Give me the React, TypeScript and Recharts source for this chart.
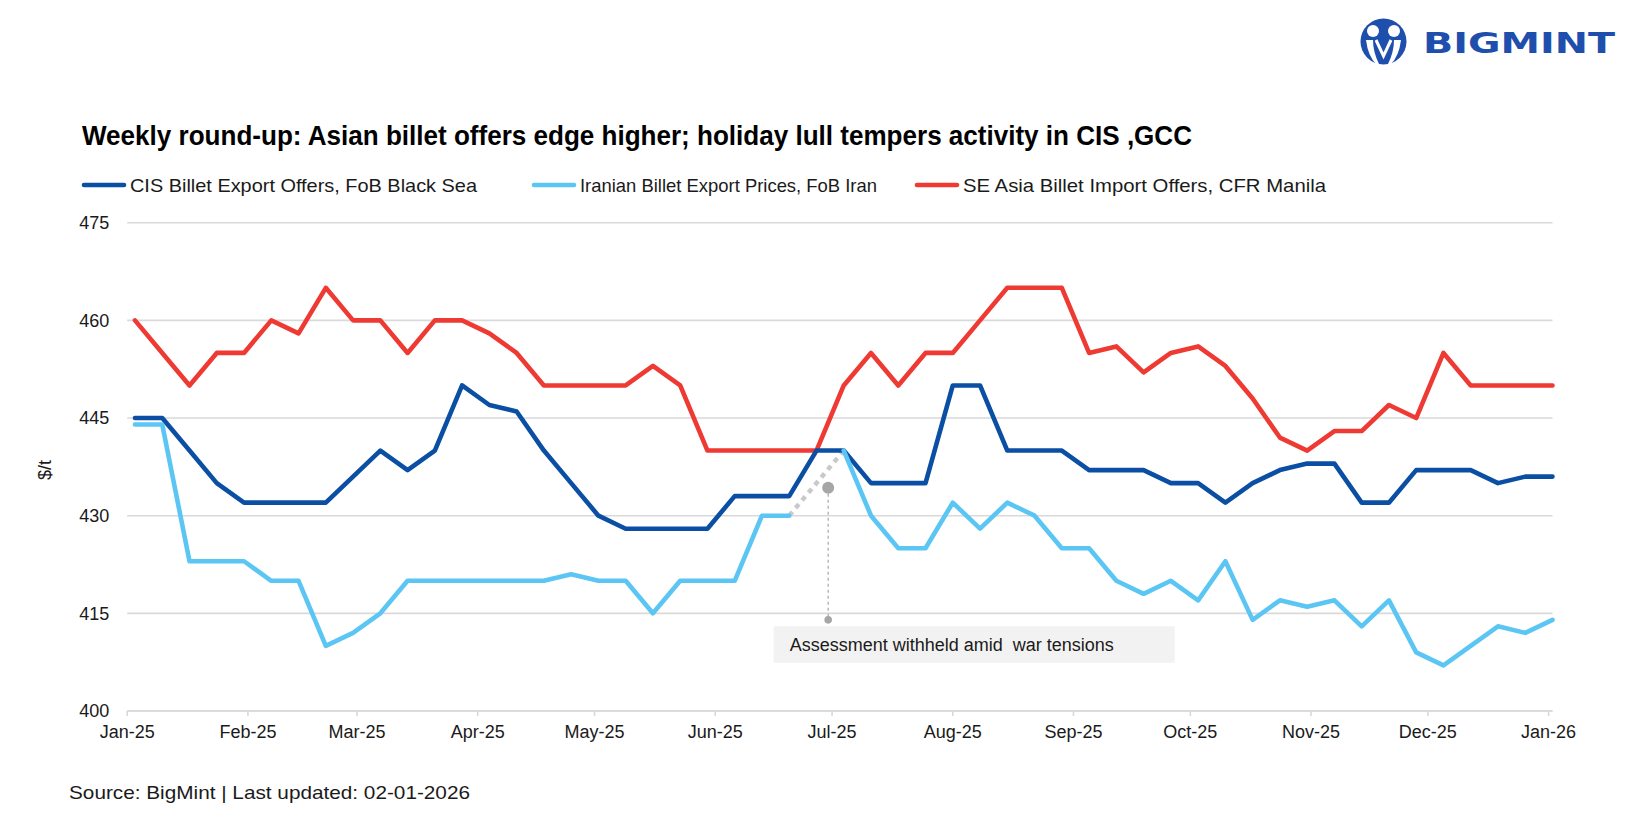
import React from 'react';
import {
  LineChart,
  Line,
  XAxis,
  YAxis,
  CartesianGrid,
  ReferenceDot,
  ReferenceLine,
  ReferenceArea,
} from 'recharts';

// ---------- data ----------
const weekDates = [
  '2025-01-03', '2025-01-10', '2025-01-17', '2025-01-24', '2025-01-31',
  '2025-02-07', '2025-02-14', '2025-02-21', '2025-02-28',
  '2025-03-07', '2025-03-14', '2025-03-21', '2025-03-28',
  '2025-04-04', '2025-04-11', '2025-04-18', '2025-04-25',
  '2025-05-02', '2025-05-09', '2025-05-16', '2025-05-23', '2025-05-30',
  '2025-06-06', '2025-06-13', '2025-06-20', '2025-06-27',
  '2025-07-04', '2025-07-11', '2025-07-18', '2025-07-25',
  '2025-08-01', '2025-08-08', '2025-08-15', '2025-08-22', '2025-08-29',
  '2025-09-05', '2025-09-12', '2025-09-19', '2025-09-26',
  '2025-10-03', '2025-10-10', '2025-10-17', '2025-10-24', '2025-10-31',
  '2025-11-07', '2025-11-14', '2025-11-21', '2025-11-28',
  '2025-12-05', '2025-12-12', '2025-12-19', '2025-12-26',
  '2026-01-02',
];

const cisOffers = [
  445, 445, 440, 435, 432, 432, 432, 432, 436, 440, 437, 440, 450, 447, 446, 440,
  435, 430, 428, 428, 428, 428, 433, 433, 433, 440, 440, 435, 435, 435, 450, 450,
  440, 440, 440, 437, 437, 437, 435, 435, 432, 435, 437, 438, 438, 432, 432, 437,
  437, 437, 435, 436, 436,
];

const iranPrices: (number | null)[] = [
  444, 444, 423, 423, 423, 420, 420, 410, 412, 415, 420, 420, 420, 420, 420, 420,
  421, 420, 420, 415, 420, 420, 420, 430, 430, null, 440, 430, 425, 425, 432, 428,
  432, 430, 425, 425, 420, 418, 420, 417, 423, 414, 417, 416, 417, 413, 417, 409,
  407, 410, 413, 412, 414,
];

const seAsiaOffers = [
  460, 455, 450, 455, 455, 460, 458, 465, 460, 460, 455, 460, 460, 458, 455, 450,
  450, 450, 450, 453, 450, 440, 440, 440, 440, 440, 450, 455, 450, 455, 455, 460,
  465, 465, 465, 455, 456, 452, 455, 456, 453, 448, 442, 440, 443, 443, 447, 445,
  455, 450, 450, 450, 450,
];

// dotted bridge across the withheld Iranian assessment
const bridgeDates = ['2025-06-20', '2025-07-04'];
const bridgeValues = [430, 440];

const monthTickDates = [
  '2025-01-01', '2025-02-01', '2025-03-01', '2025-04-01', '2025-05-01', '2025-06-01',
  '2025-07-01', '2025-08-01', '2025-09-01', '2025-10-01', '2025-11-01', '2025-12-01',
  '2026-01-01',
];
const monthTickLabels = [
  'Jan-25', 'Feb-25', 'Mar-25', 'Apr-25', 'May-25', 'Jun-25', 'Jul-25', 'Aug-25',
  'Sep-25', 'Oct-25', 'Nov-25', 'Dec-25', 'Jan-26',
];
const yTicks = [400, 415, 430, 445, 460, 475];

const seriesNames = [
  'CIS Billet Export Offers, FoB Black Sea',
  'Iranian Billet Export Prices, FoB Iran',
  'SE Asia Billet Import Offers, CFR Manila',
];

const titleText =
  'Weekly round-up: Asian billet offers edge higher; holiday lull tempers activity in CIS ,GCC';
const sourceText = 'Source: BigMint | Last updated: 02-01-2026';
const noteText = 'Assessment withheld amid\u00A0\u00A0war tensions';

// annotation anchors (data space)
const noteDate = '2025-06-30';
const noteMarkerValue = 434.3;
const noteTailValue = 414;
const noteBoxFrom = '2025-06-16';
const noteBoxTo = '2025-09-27';
const noteBoxLow = 407.4;
const noteBoxHigh = 413;

// ---------- helpers ----------
const DAY = 86400000;
const ORIGIN = Date.parse('2025-01-01');
const toDay = (d: string) => (Date.parse(d) - ORIGIN) / DAY;

const monthTicks = monthTickDates.map(toDay);
const tickLabelOf = (v: number) => {
  const i = monthTicks.indexOf(v);
  return i >= 0 ? monthTickLabels[i] : '';
};

const data = weekDates.map((d, i) => {
  const bi = bridgeDates.indexOf(d);
  return {
    day: toDay(d),
    cis: cisOffers[i],
    iran: iranPrices[i],
    sea: seAsiaOffers[i],
    bridge: bi >= 0 ? bridgeValues[bi] : null,
  };
});

const COLORS = {
  cis: '#0a4fa3',
  iran: '#5bc6f3',
  sea: '#ee3a33',
  grid: '#d9d9d9',
  text: '#1a1a1a',
  gray: '#a6a6a6',
  bridge: '#c9c9c9',
  logo: '#1f4fad',
};

const FONT = '"Liberation Sans", Arial, Helvetica, sans-serif';

const legendItems = [
  { name: seriesNames[0], color: COLORS.cis, x: 82, textLen: 347 },
  { name: seriesNames[1], color: COLORS.iran, x: 532, textLen: 297 },
  { name: seriesNames[2], color: COLORS.sea, x: 915, textLen: 363 },
];

export default function App() {
  return (
    <div
      style={{
        position: 'absolute',
        left: 0,
        top: 0,
        width: 1650,
        height: 825,
        background: '#ffffff',
        fontFamily: FONT,
        overflow: 'hidden',
      }}
    >
      <div style={{ position: 'absolute', left: 0, top: 0 }}>
        <LineChart
          width={1650}
          height={825}
          data={data}
          margin={{ top: 222.7, right: 97.5, bottom: 84, left: 67.2 }}
        >
          <CartesianGrid vertical={false} stroke={COLORS.grid} strokeWidth={1.6} />
          <XAxis
            dataKey="day"
            type="number"
            domain={[0, 366]}
            ticks={monthTicks}
            interval={0}
            tickFormatter={tickLabelOf}
            height={30}
            axisLine={{ stroke: COLORS.grid, strokeWidth: 1.6 }}
            tickLine={{ stroke: COLORS.grid, strokeWidth: 1.6 }}
            tickSize={5}
            tickMargin={9}
            tick={{ fill: COLORS.text, fontSize: 18, fontFamily: FONT }}
          />
          <YAxis
            type="number"
            domain={[400, 475]}
            ticks={yTicks}
            interval={0}
            width={60}
            axisLine={false}
            tickLine={false}
            tickSize={6}
            tickMargin={12}
            tick={{ fill: COLORS.text, fontSize: 18, fontFamily: FONT }}
          />
          <ReferenceArea
            x1={toDay(noteBoxFrom)}
            x2={toDay(noteBoxTo)}
            y1={noteBoxLow}
            y2={noteBoxHigh}
            fill="#f2f2f2"
            fillOpacity={1}
            stroke="none"
            label={{
              value: noteText,
              position: 'insideLeft',
              offset: 16,
              fill: COLORS.text,
              fontSize: 18,
              fontFamily: FONT,
            }}
          />
          <ReferenceLine
            segment={[
              { x: toDay(noteDate), y: noteMarkerValue },
              { x: toDay(noteDate), y: noteTailValue },
            ]}
            stroke={COLORS.gray}
            strokeWidth={1.2}
            strokeDasharray="3 3"
          />
          <ReferenceDot
            x={toDay(noteDate)}
            y={noteTailValue}
            r={3.8}
            fill={COLORS.gray}
            stroke="none"
          />
          <Line
            dataKey="bridge"
            stroke={COLORS.bridge}
            strokeWidth={4.5}
            strokeDasharray="5 5"
            dot={false}
            connectNulls
            isAnimationActive={false}
          />
          <Line
            dataKey="sea"
            stroke={COLORS.sea}
            strokeWidth={4.6}
            dot={false}
            strokeLinejoin="round"
            strokeLinecap="round"
            isAnimationActive={false}
          />
          <Line
            dataKey="cis"
            stroke={COLORS.cis}
            strokeWidth={4.6}
            dot={false}
            strokeLinejoin="round"
            strokeLinecap="round"
            isAnimationActive={false}
          />
          <Line
            dataKey="iran"
            stroke={COLORS.iran}
            strokeWidth={4.6}
            dot={false}
            strokeLinejoin="round"
            strokeLinecap="round"
            isAnimationActive={false}
          />
          <ReferenceDot
            x={toDay(noteDate)}
            y={noteMarkerValue}
            r={6}
            fill={COLORS.gray}
            stroke="none"
          />
        </LineChart>
      </div>

      <svg
        width={1650}
        height={825}
        style={{ position: 'absolute', left: 0, top: 0, pointerEvents: 'none' }}
      >
        {/* logo */}
        <g>
          <circle cx={1383.5} cy={41.5} r={23} fill={COLORS.logo} />
          <circle cx={1373} cy={31} r={6} fill="#ffffff" />
          <circle cx={1394} cy={31} r={6} fill="#ffffff" />
          <path
            d="M1366 40 Q1368 56 1376 64 L1379 64 Q1373 52 1373 40 Z"
            fill="#ffffff"
          />
          <path
            d="M1401 40 Q1399 56 1391 64 L1388 64 Q1394 52 1394 40 Z"
            fill="#ffffff"
          />
          <path d="M1376 40 L1383.5 56 L1391 40" stroke="#ffffff" strokeWidth={3} fill="none" />
          <text
            x={1423}
            y={53}
            fontSize={29}
            fontWeight={900}
            fill={COLORS.logo}
            fontFamily='"DejaVu Sans", "Liberation Sans", Arial, sans-serif'
            textLength={192}
            lengthAdjust="spacingAndGlyphs"
          >
            BIGMINT
          </text>
        </g>

        {/* title */}
        <text
          x={82}
          y={145}
          fontSize={27}
          fontWeight={700}
          fill="#000000"
          fontFamily={FONT}
          textLength={1110}
          lengthAdjust="spacingAndGlyphs"
        >
          {titleText}
        </text>

        {/* legend */}
        {legendItems.map((it) => (
          <g key={it.name}>
            <line
              x1={it.x + 2}
              x2={it.x + 42}
              y1={185}
              y2={185}
              stroke={it.color}
              strokeWidth={4.6}
              strokeLinecap="round"
            />
            <text
              x={it.x + 48}
              y={191.5}
              fontSize={18.5}
              fill={COLORS.text}
              fontFamily={FONT}
              textLength={it.textLen}
              lengthAdjust="spacingAndGlyphs"
            >
              {it.name}
            </text>
          </g>
        ))}

        {/* y axis unit */}
        <text
          x={0}
          y={0}
          transform="translate(51 470) rotate(-90)"
          textAnchor="middle"
          fontSize={18}
          fill={COLORS.text}
          fontFamily={FONT}
        >
          $/t
        </text>

        {/* source */}
        <text
          x={69}
          y={799}
          fontSize={19}
          fill={COLORS.text}
          fontFamily={FONT}
          textLength={401}
          lengthAdjust="spacingAndGlyphs"
        >
          {sourceText}
        </text>
      </svg>
    </div>
  );
}
